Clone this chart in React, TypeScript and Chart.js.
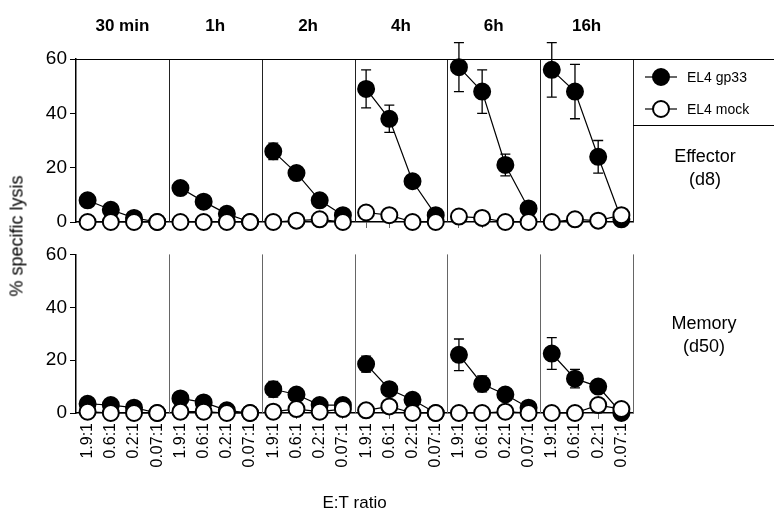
import React, { useEffect, useRef } from "react";
import { Chart, registerables } from "chart.js";
Chart.register(...registerables);

const panels = ["30 min", "1h", "2h", "4h", "6h", "16h"];
const ratios = ["1.9:1", "0.6:1", "0.2:1", "0.07:1"];
const effGp33 = [8, 4.5, 1.5, 0, 12.5, 7.5, 3, 0, 26, 18, 8, 2.5, 49, 38, 15, 2.5, 57, 48, 21, 5, 56, 48, 24, 1];
const effGp33Err = [0, 0, 0, 0, 0, 0, 0, 0, 3, 2, 0, 0, 7, 5, 2, 0, 9, 8, 4, 0, 10, 10, 6, 0];
const effMock = [0, 0, 0, 0, 0, 0, 0, 0, 0, 0.5, 1, 0, 3.5, 2.5, 0, 0, 2, 1.5, 0, 0, 0, 1, 0.5, 2.5];
const memGp33 = [3.5, 3, 2, 0, 5.5, 4, 1, 0, 9, 7, 3, 3, 18.5, 9, 5, 0, 22, 11, 7, 2, 22.5, 13, 10, 0];
const memGp33Err = [0, 0, 0, 0, 0, 0, 0, 0, 3, 2, 0, 0, 3, 2, 0, 0, 6, 3, 2, 0, 6, 3.5, 0, 0];
const memMock = [0.5, 0, 0, 0, 0.5, 0.5, 0, 0, 0.5, 1.5, 0.5, 1.5, 1, 2.5, 0, 0, 0, 0, 0.5, 0, 0, 0, 3, 1.5];
const yTicks = [0, 20, 40, 60];

const FONT = "'Liberation Sans', Arial, sans-serif";

function toPts(vals: number[]) {
  const out: any[] = [];
  vals.forEach((v, i) => {
    const p = Math.floor(i / 4), k = i % 4;
    out.push({ x: p * 4 + k + 0.5, y: v });
    if (k === 3) out.push({ x: p * 4 + 4, y: null });
  });
  return out;
}
const pointXs = effGp33.map((_, i) => Math.floor(i / 4) * 4 + (i % 4) + 0.5);

function makeConfig(gp: number[], err: number[], mock: number[], top: boolean): any {
  const errPlugin = {
    id: "err",
    beforeDatasetsDraw(c: any) {
      const ctx = c.ctx, xs = c.scales.x, ys = c.scales.y;
      ctx.save();
      ctx.strokeStyle = "#000";
      ctx.lineWidth = 1.3;
      gp.forEach((v, i) => {
        const e = err[i];
        if (!e) return;
        const x = xs.getPixelForValue(pointXs[i]);
        const y1 = ys.getPixelForValue(v - e), y2 = ys.getPixelForValue(v + e);
        ctx.beginPath();
        ctx.moveTo(x, y1); ctx.lineTo(x, y2);
        ctx.moveTo(x - 5, y1); ctx.lineTo(x + 5, y1);
        ctx.moveTo(x - 5, y2); ctx.lineTo(x + 5, y2);
        ctx.stroke();
      });
      ctx.restore();
    },
  };
  const framePlugin = {
    id: "frame",
    beforeDatasetsDraw(c: any) {
      const ctx = c.ctx, xs = c.scales.x, a = c.chartArea;
      ctx.save();
      for (let p = 1; p <= 6; p++) {
        const x = Math.round(xs.getPixelForValue(p * 4)) + 0.5;
        ctx.strokeStyle = top ? "#222" : "#666";
        ctx.lineWidth = 1;
        ctx.beginPath(); ctx.moveTo(x, a.top); ctx.lineTo(x, a.bottom); ctx.stroke();
      }
      if (top) {
        ctx.strokeStyle = "#000";
        ctx.beginPath();
        ctx.moveTo(a.left, a.top + 0.5); ctx.lineTo(c.width, a.top + 0.5);
        ctx.moveTo(a.right, 125.5); ctx.lineTo(c.width, 125.5);
        ctx.stroke();
        ctx.fillStyle = "#000";
        ctx.font = `bold 17px ${FONT}`;
        ctx.textAlign = "center";
        ctx.textBaseline = "middle";
        panels.forEach((t, p) => ctx.fillText(t, xs.getPixelForValue(p * 4 + 2), 26));
        const lx = a.right + 28;
        [["EL4 gp33", "#000", 77], ["EL4 mock", "#fff", 109]].forEach(([t, f, y]: any) => {
          ctx.strokeStyle = "#000"; ctx.lineWidth = 1.2;
          ctx.beginPath(); ctx.moveTo(lx - 16, y); ctx.lineTo(lx + 16, y); ctx.stroke();
          ctx.beginPath(); ctx.arc(lx, y, 8, 0, Math.PI * 2);
          ctx.fillStyle = f; ctx.fill(); ctx.lineWidth = 2; ctx.stroke();
          ctx.fillStyle = "#000"; ctx.font = `14px ${FONT}`; ctx.textAlign = "left";
          ctx.fillText(t, lx + 26, y + 1);
        });
        ctx.font = `18px ${FONT}`; ctx.textAlign = "center";
        ctx.fillText("Effector", 705, 157);
        ctx.fillText("(d8)", 705, 180);
      } else {
        ctx.fillStyle = "#000";
        ctx.font = `18px ${FONT}`; ctx.textAlign = "center"; ctx.textBaseline = "middle";
        ctx.fillText("Memory", 704, 84);
        ctx.fillText("(d50)", 704, 107);
      }
      ctx.restore();
    },
  };
  const ds = (vals: number[], fill: string) => ({
    data: toPts(vals),
    borderColor: "#000",
    borderWidth: 1.2,
    pointRadius: 8,
    pointHoverRadius: 8,
    pointBackgroundColor: fill,
    pointBorderColor: "#000",
    pointBorderWidth: 2,
    spanGaps: false,
    clip: false,
  });
  return {
    type: "line",
    data: { datasets: [ds(mock, "#fff"), ds(gp, "#000")].map((d, i) => ({ ...d, order: i === 0 ? 0 : 1 })) },
    options: {
      animation: false,
      responsive: false,
      events: [],
      layout: { padding: { left: 0, right: 141, top: top ? 59 : 10, bottom: 0 } },
      plugins: { legend: { display: false }, tooltip: { enabled: false } },
      scales: {
        x: {
          type: "linear", min: 0, max: 24,
          afterBuildTicks: (s: any) => { s.ticks = pointXs.map((v) => ({ value: v })); },
          afterFit: (s: any) => { s.height = top ? 18 : 105; },
          grid: { drawOnChartArea: false, tickLength: 6, color: "#666", tickColor: "#666" },
          border: { display: true, color: "#000", width: 1.5 },
          ticks: {
            autoSkip: false, display: !top, maxRotation: 90, minRotation: 90, padding: 4,
            color: "#000", font: { family: FONT, size: 16 },
            callback: (_v: any, i: number) => ratios[i % 4],
          },
          title: { display: !top, text: "E:T ratio", color: "#000", font: { family: FONT, size: 17 }, padding: { top: 20 } },
        },
        y: {
          min: 0, max: 60,
          afterBuildTicks: (s: any) => { s.ticks = yTicks.map((v) => ({ value: v })); },
          afterFit: (s: any) => { s.width = 76; },
          grid: { drawOnChartArea: false, tickLength: 6, color: "#000" },
          border: { display: true, color: "#000", width: 1.5 },
          ticks: { color: "#000", font: { family: FONT, size: 19 }, padding: 3 },
        },
      },
    },
    plugins: [framePlugin, errPlugin],
  };
}

function Panel({ cfg, w, h }: { cfg: () => any; w: number; h: number }) {
  const ref = useRef<HTMLCanvasElement>(null);
  useEffect(() => {
    const c = new Chart(ref.current!, cfg());
    return () => c.destroy();
  }, []);
  return <canvas ref={ref} width={w} height={h} style={{ display: "block", width: w, height: h }} />;
}

export default function App() {
  return (
    <div style={{ position: "absolute", left: 0, top: 0, width: 774, height: 518, background: "#fff" }}>
      <Panel cfg={() => makeConfig(effGp33, effGp33Err, effMock, true)} w={774} h={240} />
      <Panel cfg={() => makeConfig(memGp33, memGp33Err, memMock, false)} w={774} h={278} />
      <div style={{ position: "absolute", left: 17, top: 236, transform: "translate(-50%,-50%) rotate(-90deg)", whiteSpace: "nowrap", fontFamily: FONT, fontSize: 18, color: "#000" }}>
        % specific lysis
      </div>
    </div>
  );
}
